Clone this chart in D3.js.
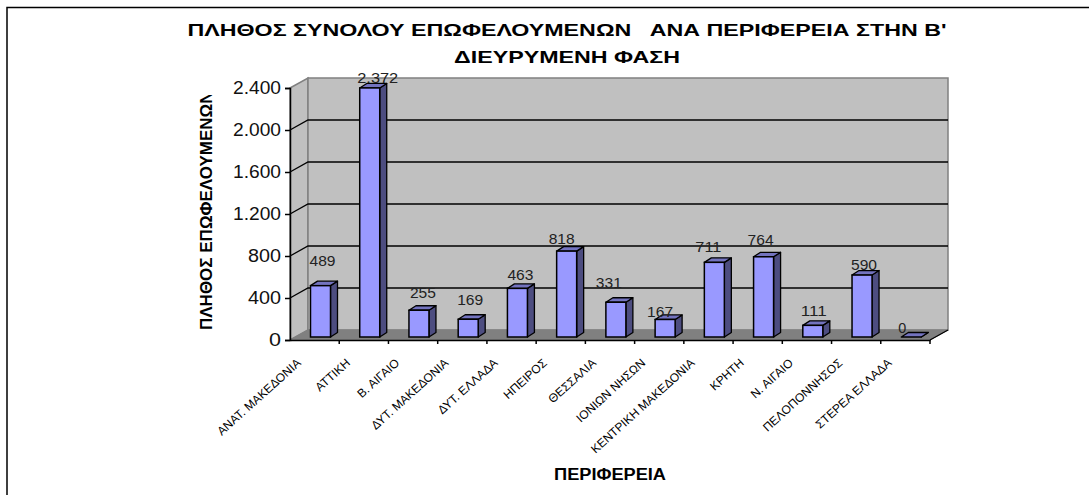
<!DOCTYPE html>
<html>
<head>
<meta charset="utf-8">
<script src="https://d3js.org/d3.v7.min.js"></script>
<style>
html, body { margin: 0; background: #fff; }
svg { display: block; font-family: "Liberation Sans", Arial, sans-serif; }
</style>
</head>
<body>
<svg width="1089" height="495"></svg>
<script>
const regions = ['ΑΝΑΤ. ΜΑΚΕΔΟΝΙΑ', 'ΑΤΤΙΚΗ', 'Β. ΑΙΓΑΙΟ', 'ΔΥΤ. ΜΑΚΕΔΟΝΙΑ', 'ΔΥΤ. ΕΛΛΑΔΑ', 'ΗΠΕΙΡΟΣ', 'ΘΕΣΣΑΛΙΑ',
    'ΙΟΝΙΩΝ ΝΗΣΩΝ', 'ΚΕΝΤΡΙΚΗ ΜΑΚΕΔΟΝΙΑ', 'ΚΡΗΤΗ', 'Ν. ΑΙΓΑΙΟ', 'ΠΕΛΟΠΟΝΝΗΣΟΣ', 'ΣΤΕΡΕΑ ΕΛΛΑΔΑ']
const beneficiaries = [489, 2372, 255, 169, 463, 818, 331, 167, 711, 764, 111, 590, 0]
const yTicks = [0, 400, 800, 1200, 1600, 2000, 2400]
const titleLines = ["ΠΛΗΘΟΣ ΣΥΝΟΛΟΥ ΕΠΩΦΕΛΟΥΜΕΝΩΝ   ΑΝΑ ΠΕΡΙΦΕΡΕΙΑ ΣΤΗΝ Β'", 'ΔΙΕΥΡΥΜΕΝΗ ΦΑΣΗ']
const xTitle = 'ΠΕΡΙΦΕΡΕΙΑ'
const yTitle = 'ΠΛΗΘΟΣ ΕΠΩΦΕΛΟΥΜΕΝΩΝ'

let svg = d3.select('svg')

let scale = {
    x: d3.scaleBand().domain(regions).range([290, 930]),
    y: d3.scaleLinear().domain([0, 2400]).range([340, 88])
}
let depth = { x: 18, y: 10 }
let bar = { w: 20, dx: 7, dy: 4.5, left: 20.5, lift: 3 }
// data labels sit at uneven spots around the bars in the original
let labelLift = [25, 10, 17, 19, 13, 12, 19, 7, 15, 17, 14, 10, 9]
let labelShift = [2, 8, 4, 2, 3, -5, -7, -5, -6, -3, 1, 2, -9]

let number = d3.format(',')
let greek = d => number(d).replace(/,/g, '.')

// Outer frame, only the left and top edges are visible
svg.append('rect').attr('x', 7).attr('y', 7.5).attr('width', 1100).attr('height', 500)
    .attr('fill', '#fff').attr('stroke', '#000').attr('stroke-width', 1.5)

// Title
svg.selectAll('.title').data(titleLines).enter().append('text')
    .attr('class', 'title')
    .attr('x', 567).attr('y', (d, i) => 36 + i * 27)
    .attr('text-anchor', 'middle')
    .attr('font-size', 17).attr('font-weight', 'bold').attr('fill', '#000')
    .attr('xml:space', 'preserve').style('white-space', 'pre')
    .attr('textLength', (d, i) => i == 0 ? 759 : 226)
    .attr('lengthAdjust', 'spacingAndGlyphs')
    .text(d => d)

let x0 = scale.x.range()[0], x1 = scale.x.range()[1]
let y0 = scale.y.range()[0], y1 = scale.y.range()[1]
let pts = a => a.map(p => p.join(',')).join(' ')

// Walls and floor
svg.append('polygon')
    .attr('points', pts([[x0, y1], [x0 + depth.x, y1 - depth.y], [x0 + depth.x, y0 - depth.y], [x0, y0]]))
    .attr('fill', '#c0c0c0').attr('stroke', '#808080').attr('stroke-width', 1.5)
svg.append('polygon')
    .attr('points', pts([[x0 + depth.x, y1 - depth.y], [x1 + depth.x, y1 - depth.y], [x1 + depth.x, y0 - depth.y], [x0 + depth.x, y0 - depth.y]]))
    .attr('fill', '#c0c0c0').attr('stroke', '#808080').attr('stroke-width', 1.5)
svg.append('polygon')
    .attr('points', pts([[x0, y0], [x0 + depth.x, y0 - depth.y], [x1 + depth.x, y0 - depth.y], [x1, y0]]))
    .attr('fill', '#808080').attr('stroke', '#808080')
svg.append('line')
    .attr('x1', x1).attr('y1', y0).attr('x2', x1 + depth.x).attr('y2', y0 - depth.y)
    .attr('stroke', '#000').attr('stroke-width', 1.3)

// Gridlines on the side wall and the back wall
let gridTicks = yTicks.filter(d => d > 0 && d < 2400)
svg.selectAll('.grid').data(gridTicks).enter().append('polyline')
    .attr('class', 'grid')
    .attr('points', d => pts([[x0, scale.y(d)], [x0 + depth.x, scale.y(d) - depth.y], [x1 + depth.x, scale.y(d) - depth.y]]))
    .attr('fill', 'none').attr('stroke', '#000').attr('stroke-width', 1.3)

// Axes
let axis = {
    x: d3.axisBottom(scale.x).tickValues(regions).tickSizeOuter(0).tickSizeInner(4).tickFormat(''),
    y: d3.axisLeft(scale.y).tickValues(yTicks).tickSize(5).tickPadding(4).tickFormat(greek)
}
let gy = svg.append('g').attr('transform', `translate(${x0},0)`).call(axis.y)
gy.selectAll('text').attr('font-size', 17.5).attr('fill', '#111').attr('font-family', 'inherit')
    .attr('textLength', d => d == 0 ? 12 : d < 1000 ? 33 : 48).attr('lengthAdjust', 'spacingAndGlyphs')
gy.selectAll('line, path').attr('stroke', '#000').attr('stroke-width', 1.5)

let gx = svg.append('g').attr('transform', `translate(0,${y0})`).call(axis.x)
gx.selectAll('.tick').remove()
gx.selectAll('path').attr('stroke', '#000').attr('stroke-width', 1.5)
gx.selectAll('.sep').data(regions).enter().append('line')
    .attr('x1', d => scale.x(d) + scale.x.bandwidth()).attr('x2', d => scale.x(d) + scale.x.bandwidth())
    .attr('y1', 0).attr('y2', 4).attr('stroke', '#000').attr('stroke-width', 1.5)

// Bars: front, side, top
let bars = svg.selectAll('.bar').data(beneficiaries).enter().append('g').attr('class', 'bar')
let bx = i => scale.x(regions[i]) + bar.left
let by = d => scale.y(d) - bar.lift
let base = y0 - bar.lift
bars.append('polygon')
    .attr('points', (d, i) => pts([[bx(i) + bar.w, by(d)], [bx(i) + bar.w + bar.dx, by(d) - bar.dy], [bx(i) + bar.w + bar.dx, base - bar.dy], [bx(i) + bar.w, base]]))
    .attr('fill', '#4d4d80').attr('stroke', '#000').attr('stroke-width', 1.3).attr('stroke-linejoin', 'round')
bars.append('polygon')
    .attr('points', (d, i) => pts([[bx(i), by(d)], [bx(i) + bar.dx, by(d) - bar.dy], [bx(i) + bar.w + bar.dx, by(d) - bar.dy], [bx(i) + bar.w, by(d)]]))
    .attr('fill', '#7373bf').attr('stroke', '#000').attr('stroke-width', 1.3).attr('stroke-linejoin', 'round')
bars.append('rect')
    .attr('x', (d, i) => bx(i)).attr('y', d => by(d))
    .attr('width', bar.w).attr('height', d => base - by(d))
    .attr('fill', '#9999ff').attr('stroke', '#000').attr('stroke-width', 1.5)

// Data labels
bars.append('text')
    .attr('x', (d, i) => bx(i) + bar.w / 2 + labelShift[i])
    .attr('y', (d, i) => by(d) - labelLift[i] + 5)
    .attr('text-anchor', 'middle')
    .attr('font-size', 14.5).attr('fill', '#222')
    .attr('textLength', d => d == 0 ? 8 : d < 1000 ? 26 : 41).attr('lengthAdjust', 'spacingAndGlyphs')
    .text(greek)

// Category labels
svg.selectAll('.cat').data(regions).enter().append('text')
    .attr('class', 'cat')
    .attr('transform', d => `translate(${scale.x(d) + scale.x.bandwidth() / 2 - 13},364) rotate(-42)`)
    .attr('text-anchor', 'end')
    .attr('font-size', 12).attr('fill', '#000')
    .text(d => d)

// Axis titles
svg.append('text')
    .attr('x', 610).attr('y', 480).attr('text-anchor', 'middle')
    .attr('font-size', 16).attr('font-weight', 'bold').attr('fill', '#000')
    .attr('textLength', 112).attr('lengthAdjust', 'spacingAndGlyphs')
    .text(xTitle)

// The y title is cut off at the top in the original
svg.append('clipPath').attr('id', 'ytitle-clip')
    .append('rect').attr('x', 190).attr('y', 95).attr('width', 30).attr('height', 240)
svg.append('g').attr('clip-path', 'url(#ytitle-clip)')
    .append('text')
    .attr('transform', 'translate(212,330) rotate(-90)')
    .attr('font-size', 17).attr('font-weight', 'bold').attr('fill', '#000')
    .text(yTitle)
</script>
</body>
</html>
